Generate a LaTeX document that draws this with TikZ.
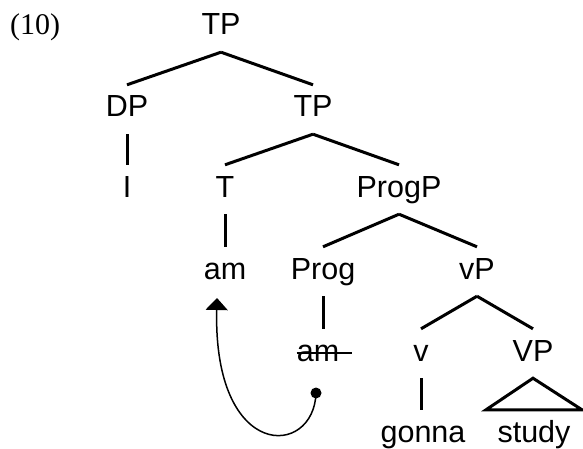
\documentclass[tikz,border=0pt]{standalone}
\usepackage{fontspec}
\newfontfamily\treefont{Liberation Sans}
\newfontfamily\exfont{Liberation Serif}
\usetikzlibrary{arrows.meta}

\begin{document}
\begin{tikzpicture}[x=1pt, y=1pt,
    cat/.style={font=\treefont\fontsize{30.5}{36}\selectfont, anchor=base,
        inner xsep=0pt, inner ysep=10pt, text height=22pt, text depth=7pt},
    branch/.style={line width=3pt},
    move/.style={line width=1.5pt, -{Triangle[width=22pt, length=12pt]}},
    trace/.style={circle, fill=black, inner sep=0pt, minimum size=11pt}]
    \useasboundingbox (0,0) rectangle (583,448);
    \node[font=\exfont\fontsize{30}{36}\selectfont, anchor=base west, inner sep=0pt] (ex) at (10,413) {(10)};
    \node[cat] (tp) at (221,413) {TP};
    \node[cat] (dp) at (127,331) {DP};
    \node[cat] (tbar) at (313,331) {TP};
    \node[cat] (i) at (127,251) {I};
    \node[cat] (t) at (225,251) {T};
    \node[cat] (progp) at (399,251) {ProgP};
    \node[cat] (am) at (225,169) {am};
    \node[cat] (prog) at (323,169) {Prog};
    \node[cat] (vp) at (477,169) {vP};
    \node[cat] (amcopy) at (318,87) {am};
    \node[cat] (v) at (421,87) {v};
    \node[cat] (bigvp) at (533,87) {VP};
    \node[cat] (gonna) at (423,6) {gonna};
    \node[cat] (study) at (534,6) {study};
    \foreach \a/\b in {tp/dp, tp/tbar, tbar/t, tbar/progp, progp/prog, progp/vp, vp/v, vp/bigvp}
        \draw[branch] (\a.south) -- (\b.north);
    \foreach \a/\b in {dp/i, t/am, prog/amcopy, v/gonna}
        \draw[branch] (\a.south) -- (\a.south |- \b.north);
    \draw[branch] (bigvp.south) -- ([xshift=-48pt]study.north) -- ([xshift=48pt]study.north) -- cycle;
    \draw[line width=1.4pt] ([yshift=8pt]amcopy.base west) -- ++(55,0);
    \node[trace] (low) at (316,55) {};
    \coordinate (high) at (217,150);
    \draw[move] (low.center) .. controls (314,-10) and (213,-14) .. (high);
\end{tikzpicture}
\end{document}
